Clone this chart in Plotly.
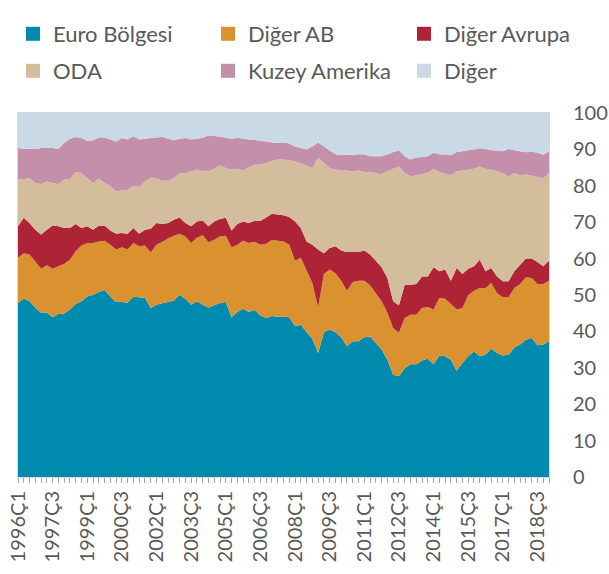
import plotly.graph_objects as go

# quarters 1996Ç1 .. 2019Ç1
quarters = [f"{y}Ç{q}" for y in range(1996, 2020) for q in range(1, 5)][:93]

euro_bolgesi = [47.8, 49.0, 48.3, 46.6, 45.1, 45.2, 43.9, 44.8, 44.9, 46.0, 47.5, 48.3,
                49.6, 50.1, 50.8, 51.4, 49.6, 48.1, 48.1, 47.9, 49.5, 49.4, 49.2, 46.4,
                47.3, 47.7, 48.1, 48.4, 50.1, 49.0, 47.3, 48.3, 47.3, 46.6, 47.2, 47.8,
                48.1, 43.9, 45.3, 46.2, 45.3, 45.9, 44.4, 43.7, 44.2, 44.0, 44.0, 43.9,
                41.4, 41.8, 39.8, 38.0, 34.1, 39.8, 40.5, 39.8, 38.4, 35.9, 37.3, 37.3,
                38.4, 38.6, 36.8, 35.0, 32.2, 28.1, 27.7, 29.9, 31.0, 31.0, 32.0, 32.5,
                31.0, 33.4, 33.2, 32.2, 29.2, 31.3, 33.2, 34.5, 33.2, 33.6, 35.3, 34.1,
                33.4, 33.6, 35.6, 36.4, 37.7, 38.2, 36.2, 36.4, 37.3]
diger_ab = [12.4, 12.5, 12.8, 12.6, 12.1, 13.0, 13.3, 13.1, 13.6, 13.7, 14.5, 15.3,
            14.6, 14.2, 13.9, 13.5, 14.2, 14.4, 15.0, 14.6, 14.8, 14.0, 14.4, 15.3,
            16.5, 16.9, 17.4, 17.9, 16.7, 17.1, 17.0, 17.4, 19.1, 17.9, 18.0, 18.3,
            18.2, 19.2, 18.5, 18.7, 19.0, 18.7, 19.4, 20.4, 20.9, 20.9, 20.7, 19.9,
            18.0, 18.4, 16.9, 15.3, 12.5, 16.0, 16.5, 16.2, 15.5, 15.3, 16.3, 16.6,
            15.5, 14.1, 13.7, 13.3, 12.9, 12.8, 11.9, 13.8, 13.6, 13.6, 14.4, 14.2,
            15.0, 15.8, 15.8, 15.3, 16.8, 15.1, 16.7, 16.7, 18.7, 18.3, 18.0, 16.4,
            16.0, 15.8, 16.3, 16.6, 17.2, 16.5, 16.8, 16.6, 16.6]
diger_avrupa = [8.7, 9.7, 8.7, 8.7, 9.4, 9.7, 11.9, 11.0, 9.9, 8.7, 7.5, 4.8,
                4.7, 3.6, 4.3, 4.2, 3.9, 4.3, 3.9, 4.3, 4.1, 3.4, 4.3, 6.5,
                6.0, 4.9, 4.3, 4.4, 4.5, 3.7, 4.6, 4.5, 4.1, 4.4, 5.0, 4.8,
                4.9, 4.6, 5.7, 5.3, 5.5, 5.8, 6.6, 7.2, 7.2, 7.2, 7.2, 7.6,
                10.8, 8.2, 8.0, 10.5, 15.9, 5.7, 5.9, 7.4, 8.3, 10.6, 8.2, 7.9,
                8.3, 8.4, 8.9, 9.3, 9.6, 7.4, 7.6, 9.1, 8.2, 8.4, 8.7, 8.4,
                11.6, 7.3, 8.0, 6.4, 11.4, 9.4, 7.3, 6.7, 7.8, 4.6, 4.1, 4.6,
                4.4, 4.4, 4.6, 5.3, 5.1, 5.3, 6.1, 4.9, 5.5]
oda = [12.8, 10.7, 12.3, 12.9, 13.9, 13.3, 11.7, 11.6, 13.3, 13.5, 14.3, 15.1,
       13.2, 12.9, 13.0, 11.7, 12.2, 11.7, 11.7, 12.1, 11.7, 12.9, 13.3, 14.1,
       12.2, 11.9, 11.6, 11.4, 12.2, 13.6, 15.1, 14.3, 13.5, 15.1, 14.5, 14.7,
       13.7, 16.7, 15.2, 14.1, 15.3, 15.4, 15.4, 15.0, 14.6, 15.1, 15.3, 15.6,
       16.5, 17.8, 20.9, 21.1, 25.3, 24.8, 22.0, 21.1, 22.1, 22.4, 22.2, 22.4,
       21.6, 22.7, 24.1, 25.6, 29.3, 36.4, 38.1, 30.7, 29.8, 29.9, 28.1, 28.5,
       27.0, 27.3, 26.3, 29.0, 26.6, 28.4, 27.2, 26.8, 25.6, 28.2, 27.0, 28.9,
       29.7, 28.8, 27.0, 24.6, 23.1, 22.8, 23.3, 24.2, 24.1]
kuzey_amerika = [8.7, 8.2, 8.1, 9.3, 9.9, 9.2, 9.6, 9.7, 10.1, 11.0, 9.6, 9.6,
                 10.3, 11.7, 11.3, 12.5, 12.8, 13.7, 14.4, 13.8, 13.5, 13.0, 11.7, 10.8,
                 11.3, 12.1, 11.5, 10.4, 9.4, 9.7, 8.7, 8.4, 9.2, 9.8, 9.0, 7.9,
                 8.4, 8.5, 8.4, 8.7, 7.6, 6.8, 6.6, 5.9, 5.0, 4.6, 4.7, 4.6,
                 4.1, 4.2, 4.4, 5.9, 4.1, 4.5, 4.8, 4.2, 4.1, 4.4, 4.4, 4.5,
                 4.8, 4.3, 4.6, 4.9, 4.6, 4.6, 4.4, 4.6, 4.6, 4.9, 4.7, 4.5,
                 4.5, 4.9, 5.2, 5.5, 5.3, 5.3, 5.4, 5.3, 5.0, 5.5, 5.4, 5.7,
                 6.0, 7.5, 6.3, 6.6, 6.1, 6.6, 6.7, 6.4, 5.9]
diger = [9.6, 9.9, 9.8, 9.9, 9.6, 9.6, 9.6, 9.8, 8.2, 7.1, 6.6, 6.9,
         7.6, 7.5, 6.7, 6.7, 7.3, 7.8, 6.9, 7.3, 6.4, 7.3, 7.1, 6.9,
         6.7, 6.5, 7.1, 7.5, 7.1, 6.9, 7.3, 7.1, 6.8, 6.2, 6.3, 6.5,
         6.7, 7.1, 6.9, 7.0, 7.3, 7.4, 7.6, 7.8, 8.1, 8.2, 8.1, 8.4,
         9.2, 9.6, 10.0, 9.2, 8.1, 9.2, 10.3, 11.3, 11.6, 11.4, 11.6, 11.3,
         11.4, 11.9, 11.9, 11.9, 11.4, 10.7, 10.3, 11.9, 12.8, 12.2, 12.1, 11.9,
         10.9, 11.3, 11.5, 11.6, 10.7, 10.5, 10.2, 10.0, 9.7, 9.8, 10.2, 10.3,
         10.5, 9.9, 10.2, 10.5, 10.8, 10.6, 10.9, 11.5, 10.6]

names = ["Euro Bölgesi", "Diğer AB", "Diğer Avrupa", "ODA", "Kuzey Amerika", "Diğer"]
values = [euro_bolgesi, diger_ab, diger_avrupa, oda, kuzey_amerika, diger]
colors = ["#008bae", "#da9230", "#ae2436", "#d4bd9c", "#c48fab", "#c9d9e6"]

x = list(range(len(quarters)))
tick_idx = x[::6]
gray = "#595959"

fig = go.Figure()
for name, vals, col in zip(names, values, colors):
    fig.add_trace(go.Scatter(x=x, y=vals, name=name, stackgroup="one", mode="none",
                             fillcolor=col, showlegend=False, hoverinfo="skip"))

# one small legend per entry, laid out as a 3 x 2 grid
legend_x = [13, 208, 404]
legend_y = [34, 71]
legends = {}
for k, (name, col) in enumerate(zip(names, colors)):
    key = "legend" if k == 0 else f"legend{k + 1}"
    fig.add_trace(go.Scatter(x=[None], y=[None], name=name, mode="markers", legend=key,
                             marker=dict(symbol="square", size=14, color=col)))
    legends[key] = dict(xref="container", yref="container",
                        x=legend_x[k % 3] / 609, y=1 - legend_y[k // 3] / 574,
                        xanchor="left", yanchor="middle",
                        font=dict(family="Lato", size=22, color=gray),
                        bgcolor="rgba(0,0,0,0)")

fig.update_layout(
    width=609, height=574,
    margin=dict(l=18, r=60, t=113, b=97, autoexpand=False),
    paper_bgcolor="white", plot_bgcolor="white",
    font=dict(family="Lato", color=gray),
    xaxis=dict(range=[0, len(x) - 1], tickvals=tick_idx,
               ticktext=[quarters[i] for i in tick_idx], tickangle=-90,
               tickfont=dict(size=20, color=gray), ticks="outside", ticklen=5,
               tickcolor="#a6a6a6", showgrid=False, zeroline=False,
               showline=True, linecolor="#d9d9d9", mirror=True,
               minor=dict(dtick=1, ticks="outside", ticklen=5, tickcolor="#a6a6a6")),
    yaxis=dict(side="right", range=[0, 100], dtick=10, showgrid=False,
               zeroline=False, tickfont=dict(size=20, color=gray), ticks="",
               ticklabelstandoff=19, showline=True, linecolor="#d9d9d9", mirror=True),
    **legends,
)

# drop the browser's default page margin so the figure sits at the window's corner
fig.write_html("out.html", config={"displayModeBar": False},
               post_script="document.body.style.margin = '0px';")
